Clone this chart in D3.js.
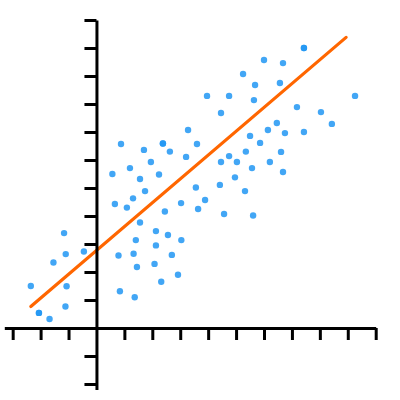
<!DOCTYPE html>
<html>
<head>
<meta charset="utf-8">
<script src="https://cdn.jsdelivr.net/npm/d3@7"></script>
<style>
  html, body { margin: 0; padding: 0; background: #fff; }
  svg { display: block; }
</style>
</head>
<body>
<div id="chart"></div>
<script>
// Scatter points (data units)
var pointsX = [7.43, 7.43, 6.00, 6.68, 5.25, 5.68, 6.57, 3.96, 4.75, 5.64, 9.26, 7.18, 8.04, 4.46, 6.46,
    8.43, 3.28, 6.14, 5.50, 6.75, 7.43, 0.88, 2.38, 2.38, 3.60, 1.70, 2.63, 5.86, 3.21, 5.35,
    6.61, 1.95, 4.75, 1.20, 4.46, 5.03, 6.21, 0.57, 2.24, 5.57, 1.56, 6.68, 4.96, 4.42, 3.56,
    1.74, 5.32, 1.31, 3.89, 3.03, 3.64, 0.66, 1.09, 2.45, 4.57, 5.61, 1.56, -1.16, 2.13, 2.56,
    1.41, 3.04, 2.13, -0.45, -1.10, 0.79, 1.33, 2.70, -1.54, 1.45, 2.08, -2.35, -1.07, 2.92,
    2.32, 0.84, 1.37, -1.11, -2.06, -2.06, -1.68];
var pointsY = [10.00, 10.00, 9.57, 9.46, 9.07, 8.68, 8.75, 8.29, 8.29, 8.14, 8.29, 7.89, 7.71, 7.68, 7.32,
    7.29, 7.07, 7.07, 6.86, 6.96, 7.00, 6.57, 6.59, 6.59, 6.57, 6.36, 6.30, 6.61, 6.11, 6.30,
    6.29, 5.93, 6.14, 5.71, 5.93, 5.93, 5.93, 5.50, 5.48, 5.71, 5.32, 5.57, 5.38, 5.11, 5.02,
    4.89, 4.89, 4.63, 4.57, 4.46, 4.25, 4.43, 4.30, 4.16, 4.07, 4.02, 3.77, 3.39, 3.46, 3.32,
    3.14, 3.14, 2.95, 2.73, 2.64, 2.59, 2.65, 2.61, 2.34, 2.18, 2.29, 1.50, 1.49, 1.90,
    1.65, 1.31, 1.10, 0.77, 0.54, 0.54, 0.32];

// Fitted line end points
var fitX = [-2.35, 8.94];
var fitY = [0.77, 10.38];

// Tick values
var xTicks = [-3, -2, -1, 1, 2, 3, 4, 5, 6, 7, 8, 9, 10];
var yTicks = [-2, -1, 1, 2, 3, 4, 5, 6, 7, 8, 9, 10, 11];

var width = 400;
var height = 400;

// Scales
var x = d3.scaleLinear()
    .domain([-3.3, 10])
    .range([4.3, 375.7]);
var y = d3.scaleLinear()
    .domain([-2.2, 11])
    .range([389.6, 20]);

var svg = d3.select('#chart')
    .append('svg')
    .attr('width', width)
    .attr('height', height);

// Points
svg.append('g')
    .attr('class', 'points')
    .selectAll('circle')
    .data(pointsX)
    .enter()
    .append('circle')
    .attr('cx', function(d){ return x(d); })
    .attr('cy', function(d, i){ return y(pointsY[i]); })
    .attr('r', 3.2)
    .attr('fill', '#2196f3')
    .attr('fill-opacity', 0.85);

// Fit line
var line = d3.line()
    .x(function(d){ return x(d); })
    .y(function(d, i){ return y(fitY[i]); });

svg.append('path')
    .datum(fitX)
    .attr('d', line)
    .attr('fill', 'none')
    .attr('stroke', '#ff6600')
    .attr('stroke-width', 3.2)
    .attr('stroke-linecap', 'round');

// Axes crossing at origin
var xAxis = d3.axisBottom(x)
    .tickValues(xTicks)
    .tickSize(12)
    .tickSizeOuter(0)
    .tickFormat('');
var yAxis = d3.axisLeft(y)
    .tickValues(yTicks)
    .tickSize(12)
    .tickSizeOuter(0)
    .tickFormat('');

var gx = svg.append('g')
    .attr('transform', 'translate(0,' + y(0) + ')')
    .call(xAxis);
var gy = svg.append('g')
    .attr('transform', 'translate(' + x(0) + ',0)')
    .call(yAxis);

[gx, gy].forEach(function(g){
    g.select('.domain').attr('stroke', '#000').attr('stroke-width', 3);
    g.selectAll('.tick line').attr('stroke', '#000').attr('stroke-width', 3);
});
</script>
</body>
</html>
